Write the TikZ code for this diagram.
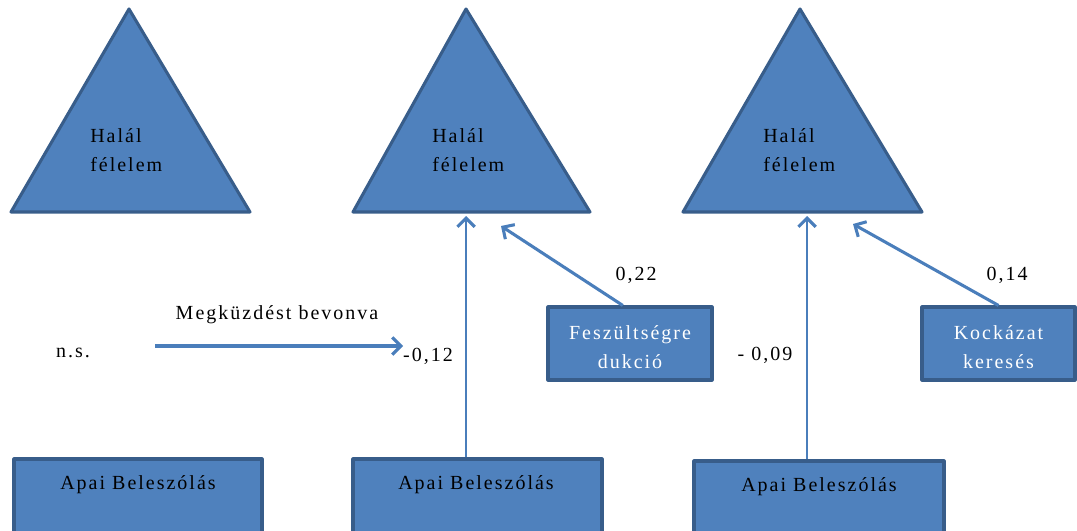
\documentclass[tikz,border=0pt]{standalone}
\usepackage{fontspec}
\setmainfont{Liberation Serif}
\newfontfamily\spacedserif[LetterSpace=10]{Liberation Serif}
\usetikzlibrary{arrows.meta,calc}
\definecolor{boxfill}{HTML}{4F81BD}
\definecolor{boxline}{HTML}{385D8A}
\definecolor{linkcol}{HTML}{4A7EBB}
\begin{document}
\begin{tikzpicture}[x=0.75pt,y=-0.75pt,
  solid/.style={fill=boxfill,draw=boxline,line width=2.3pt,line join=round},
  txt/.style={font=\spacedserif\fontsize{15}{21.5}\selectfont,align=left,inner sep=0pt},
  wtxt/.style={txt,align=center,text=white},
  link/.style={draw=linkcol,line width=2.3pt,
    -{Straight Barb[length=6.5pt,width=13pt,line width=2.3pt]}},
  vlink/.style={link,line width=1.6pt}]
\useasboundingbox (0,0) rectangle (1077,531);

% three fear triangles
\path[solid] (129,9) -- (250,212) -- (11,212) -- cycle;
\path[solid] (466,9) -- (590,212) -- (353,212) -- cycle;
\path[solid] (800,9) -- (922,212) -- (683,212) -- cycle;
\node[txt,anchor=west] (fear1) at (90,150) {Halál\\félelem};
\node[txt,anchor=west] (fear2) at (432,150) {Halál\\félelem};
\node[txt,anchor=west] (fear3) at (763,150) {Halál\\félelem};
\coordinate (base2) at (466,216);
\coordinate (base2r) at (501,226);
\coordinate (base3) at (807,216);
\coordinate (base3r) at (853,224);

% paternal interference boxes
\node[solid,minimum width=186pt,minimum height=64.5pt,inner sep=0pt] (pat1) at (138,502) {};
\node[solid,minimum width=186.75pt,minimum height=64.5pt,inner sep=0pt] (pat2) at (477.5,502) {};
\node[solid,minimum width=187.5pt,minimum height=63pt,inner sep=0pt] (pat3) at (819,503) {};
\node[txt] (pat1t) at (138,485) {Apai Beleszólás};
\node[txt] (pat2t) at (476,485) {Apai Beleszólás};
\node[txt] (pat3t) at (819,487) {Apai Beleszólás};

% mediator boxes
\node[solid,minimum width=123pt,minimum height=54.75pt,inner sep=0pt] (tension) at (630,343.5) {};
\node[wtxt] (tensiont) at (630,347) {Feszültségre\\dukció};
\node[solid,minimum width=114.75pt,minimum height=54.75pt,inner sep=0pt] (risk) at (998.5,343.5) {};
\node[wtxt] (riskt) at (998.5,347) {Kockázat\\keresés};

% paths
\draw[vlink] (pat2.north -| base2) -- (base2);
\draw[vlink] (pat3.north -| base3) -- (base3);
\draw[link] ($(tension.north west)!0.457!(tension.north east)$) -- (base2r);
\draw[link] (risk.north) -- (base3r);
\coordinate (hstart) at (155,346);
\coordinate (hend) at (403,346);
\draw[link] (hstart) -- (hend);

% coefficients
\node[txt] (lblcope) at (277,315) {Megküzdést bevonva};
\node[txt] (lblns) at (73,353) {n.s.};
\node[txt] (lbla) at (428,356) {-0,12};
\node[txt] (lblb) at (636,275) {0,22};
\node[txt] (lblc) at (765,355) {- 0,09};
\node[txt] (lbld) at (1007,275) {0,14};
\end{tikzpicture}
\end{document}
